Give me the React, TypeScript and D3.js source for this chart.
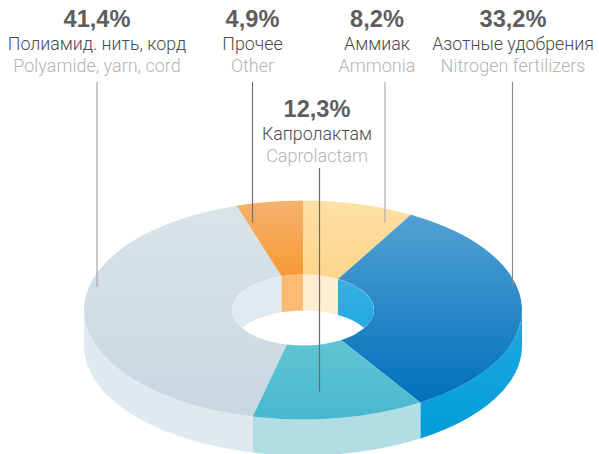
import React from "react";
import * as d3 from "d3";

const categoriesRu = ["Аммиак", "Азотные удобрения", "Капролактам", "Полиамид. нить, корд", "Прочее"];
const categoriesEn = ["Ammonia", "Nitrogen fertilizers", "Caprolactam", "Polyamide, yarn, cord", "Other"];
const shares = [8.2, 32.8, 12.7, 41.4, 4.9];
const shareLabels = ["8,2%", "33,2%", "12,3%", "41,4%", "4,9%"];
const topColors = [["#fee0a6", "#fdd58b"], ["#52a1d3", "#0070bb"], ["#60c4d3", "#48b8ce"], ["#d9e4ea", "#c8d7e0"], ["#f6b26f", "#f59a35"]];
const sideColors = [["#fde3b4", "#fde3b4"], ["#22a9de", "#009cd9"], ["#b2dde4", "#b2dde4"], ["#dfe9f0", "#dfe9f0"], ["#f9bc72", "#f9bc72"]];
const wallColors = [["#ffedcf", "#ffedcf"], ["#36b1e2", "#1fa6de"], ["#b2dde4", "#b2dde4"], ["#e2eaf1", "#e2eaf1"], ["#f9bc72", "#f9bc72"]];
const leaderX = [385, 512.5, 319.5, 97, 252.5];
const leaderTop = [82, 82, 168, 82, 82];
const leaderEnd = [222.5, 287, 391.5, 287, 222.5];
const leaderColors = ["#adadad", "#8a8a8a", "#6b6b6b", "#a6a6a6", "#707070"];
const labelX = [377, 513, 317, 97, 252.5];
const labelBase = [27, 27, 116.5, 27, 27];

const cx = 303, cy = 310, R = 219, r = 71, squash = 0.5, depth = 36;
const TAU = Math.PI * 2;

const pie = d3.pie<number>().sort(null)(shares);
const arc = d3.arc<d3.PieArcDatum<number>>().innerRadius(r).outerRadius(R);

const pt = (rad: number, a: number, dy = 0) => [cx + rad * Math.sin(a), cy - rad * squash * Math.cos(a) + dy];
const band = (rad: number, a0: number, a1: number) => {
  const [x0, y0] = pt(rad, a0);
  const [x1, y1] = pt(rad, a1);
  const [x2, y2] = pt(rad, a1, depth);
  const [x3, y3] = pt(rad, a0, depth);
  const ry = rad * squash;
  return `M${x0},${y0}A${rad},${ry} 0 0 1 ${x1},${y1}L${x2},${y2}A${rad},${ry} 0 0 0 ${x3},${y3}Z`;
};

export default function App() {
  return (
    <svg width={599} height={454} style={{ position: "absolute", left: 0, top: 0 }}>
      <defs>
        {pie.map((_, i) => (
          <React.Fragment key={i}>
            <linearGradient id={`top${i}`} x1="0" x2="0" y1="0" y2="1">
              <stop offset="0" stopColor={topColors[i][0]} />
              <stop offset="1" stopColor={topColors[i][1]} />
            </linearGradient>
            <linearGradient id={`side${i}`} x1="0" x2="0" y1="0" y2="1">
              <stop offset="0" stopColor={sideColors[i][0]} />
              <stop offset="1" stopColor={sideColors[i][1]} />
            </linearGradient>
            <linearGradient id={`wall${i}`} x1="0" x2="0" y1="0" y2="1">
              <stop offset="0" stopColor={wallColors[i][0]} />
              <stop offset="1" stopColor={wallColors[i][1]} />
            </linearGradient>
          </React.Fragment>
        ))}
        <clipPath id="hole">
          <ellipse cx={cx} cy={cy} rx={r} ry={r * squash} />
        </clipPath>
      </defs>

      {pie.map((d, i) => {
        const a0 = Math.max(d.startAngle, TAU / 4);
        const a1 = Math.min(d.endAngle, (TAU * 3) / 4);
        return a1 > a0 ? <path key={i} d={band(R, a0, a1)} fill={`url(#side${i})`} /> : null;
      })}

      <g clipPath="url(#hole)">
        {pie.flatMap((d, i) => {
          const ranges = [
            [d.startAngle, Math.min(d.endAngle, TAU / 4)],
            [Math.max(d.startAngle, (TAU * 3) / 4), d.endAngle],
          ];
          return ranges
            .filter(([a0, a1]) => a1 > a0)
            .map(([a0, a1], j) => <path key={`${i}-${j}`} d={band(r, a0, a1)} fill={`url(#wall${i})`} />);
        })}
      </g>

      <g transform={`translate(${cx},${cy}) scale(1,${squash})`}>
        {pie.map((d, i) => (
          <path key={i} d={arc(d) as string} fill={`url(#top${i})`} />
        ))}
      </g>

      {pie.map((_, i) => (
        <line key={i} x1={leaderX[i]} x2={leaderX[i]} y1={leaderTop[i]} y2={leaderEnd[i]} stroke={leaderColors[i]} strokeWidth={1.2} />
      ))}

      <g textAnchor="middle">
        {pie.map((_, i) => (
          <g key={i}>
            <text x={labelX[i]} y={labelBase[i]} fontFamily="Liberation Sans" fontWeight={700} fontSize={23.6} fill="#5e5e5e">
              {shareLabels[i]}
            </text>
            <text x={labelX[i]} y={labelBase[i] + 23} fontFamily="Roboto" fontWeight={300} fontSize={17.8} fill="#4a4a4a">
              {categoriesRu[i]}
            </text>
            <text x={labelX[i]} y={labelBase[i] + 45} fontFamily="Roboto" fontWeight={300} fontSize={18} fill="#b4b4b4">
              {categoriesEn[i]}
            </text>
          </g>
        ))}
      </g>
    </svg>
  );
}
